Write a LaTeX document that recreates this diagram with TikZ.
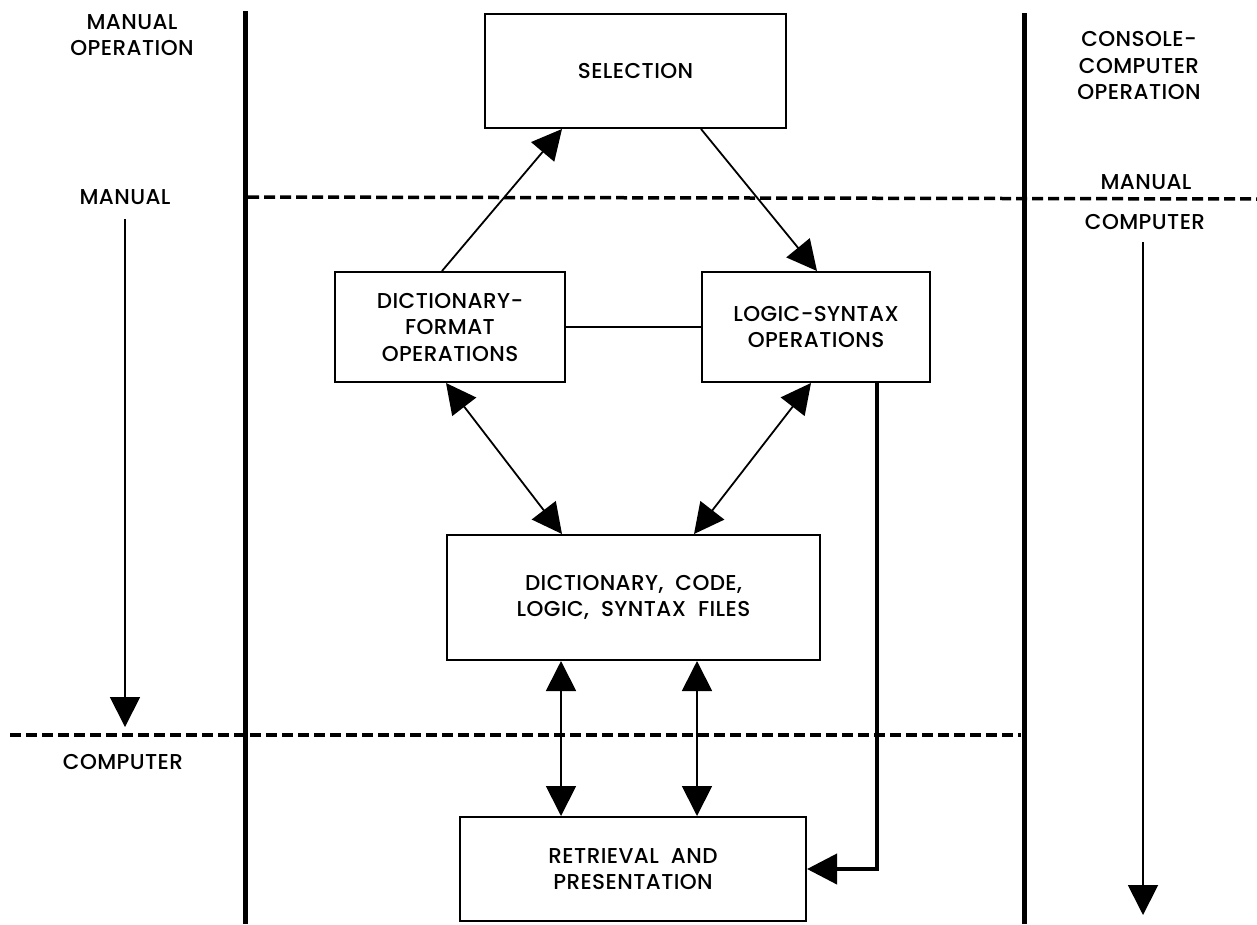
\documentclass[tikz,border=0pt]{standalone}
\usepackage{fontspec}
\setmainfont{Poppins}[UprightFont={* Medium},LetterSpace=2]
\usetikzlibrary{arrows.meta}
\begin{document}
\begin{tikzpicture}[x=1pt,y=-1pt,
  txt/.style={font=\fontsize{21.5}{26.5}\selectfont, align=center, inner sep=0pt},
  box/.style={draw, line width=2pt, inner sep=0pt, txt},
  arr/.style={line width=1.8pt, -{Triangle[length=30pt,width=30pt]}},
  darr/.style={line width=1.8pt, {Triangle[length=30pt,width=30pt]}-{Triangle[length=30pt,width=30pt]}},
  thick line/.style={line width=5pt},
  dashline/.style={line width=3.5pt, dash pattern=on 11pt off 5pt}
]
\useasboundingbox (0,0) rectangle (1257,924);
% lanes
\draw[thick line] (245,11) -- (245,924);
\draw[thick line] (1024,13) -- (1024,924);
\draw[dashline] (248,197) -- (1257,199);
\draw[dashline] (10,735) -- (1021,735);
% side labels
\node[txt] (manop) at (132,35) {MANUAL\\OPERATION};
\node[txt] (manL) at (125,197) {MANUAL};
\node[txt] (compL) at (123,762) {COMPUTER};
\node[txt] (cco) at (1139,66) {CONSOLE-\\COMPUTER\\OPERATION};
\node[txt] (manR) at (1146,182) {MANUAL};
\node[txt] (compR) at (1145,222) {COMPUTER};
\coordinate (la1) at (125,219);
\coordinate (la2) at (125,727);
\coordinate (ra1) at (1143,242);
\coordinate (ra2) at (1143,915);
\draw[arr] (la1) -- (la2);
\draw[arr] (ra1) -- (ra2);
% boxes
\node[box, minimum width=301pt, minimum height=114pt] (sel) at (635.5,71) {SELECTION};
\node[box, minimum width=230pt, minimum height=110pt] (dict) at (450,327) {DICTIONARY-\\FORMAT\\OPERATIONS};
\node[box, minimum width=228pt, minimum height=110pt] (logic) at (816,327) {LOGIC-SYNTAX\\OPERATIONS};
\node[box, minimum width=373pt, minimum height=125pt] (files) at (633.5,597.5) {DICTIONARY,\ \ CODE,\\LOGIC,\ \ SYNTAX\ \ FILES};
\node[box, minimum width=346pt, minimum height=104pt] (ret) at (633,869) {RETRIEVAL\ \ AND\\PRESENTATION};
% connectors
\draw[arr] ([xshift=108pt]dict.north west) -- ([xshift=78pt]sel.south west);
\draw[arr] ([xshift=217pt]sel.south west) -- ([xshift=116pt]logic.north west);
\draw[line width=1.8pt] (dict.east) -- (logic.west);
\draw[darr] ([xshift=112pt]dict.south west) -- ([xshift=116pt]files.north west);
\draw[darr] ([xshift=110pt]logic.south west) -- ([xshift=248pt]files.north west);
\draw[darr] ([xshift=115pt]files.south west) -- ([xshift=102pt]ret.north west);
\draw[darr] ([xshift=251pt]files.south west) -- ([xshift=238pt]ret.north west);
\draw[line width=4pt, -{Triangle[length=30pt,width=30pt]}] ([xshift=176pt]logic.south west) |- (ret.east);
\end{tikzpicture}
\end{document}
